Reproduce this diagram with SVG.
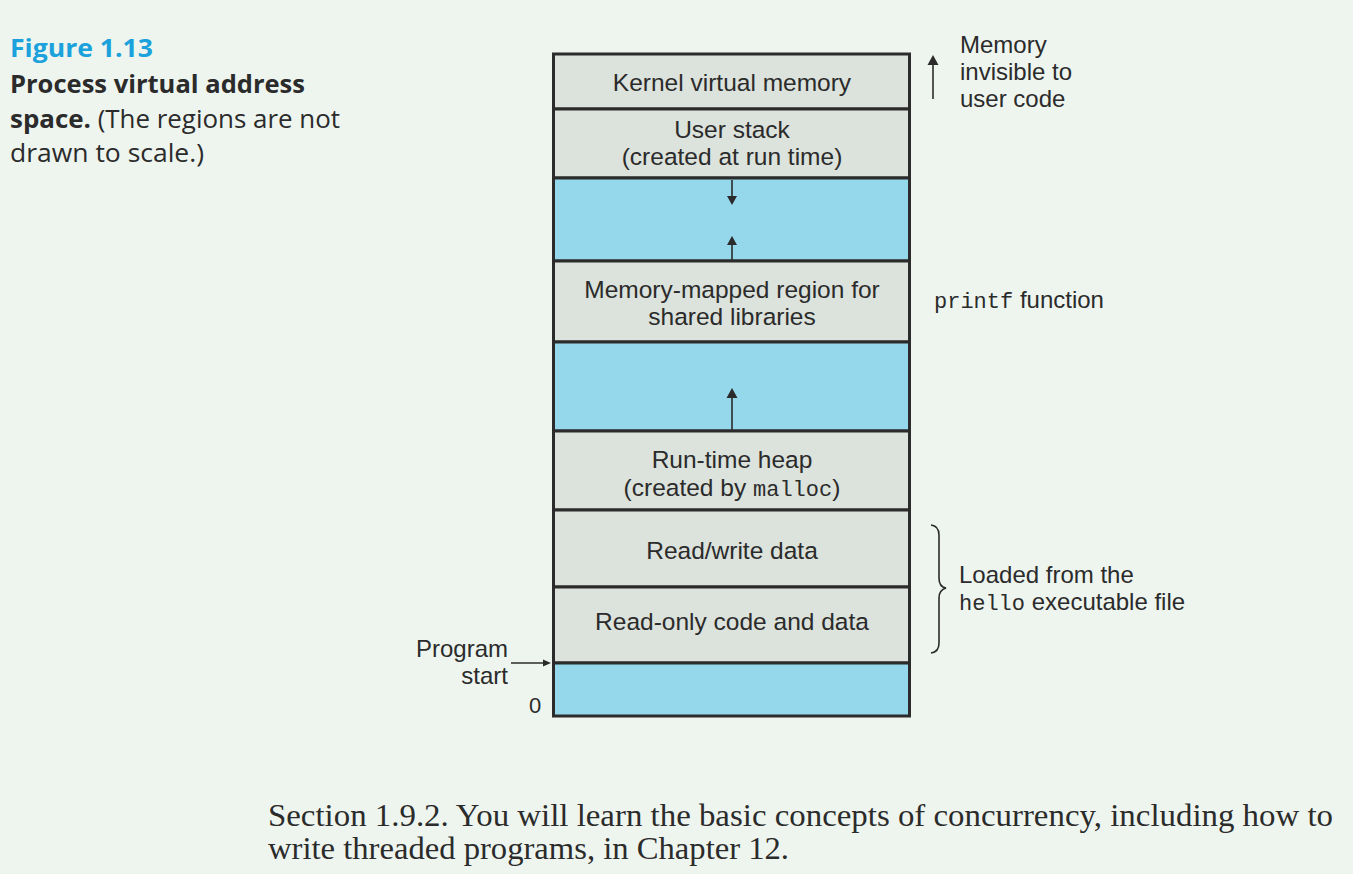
<svg xmlns="http://www.w3.org/2000/svg" width="1353" height="874" viewBox="0 0 1353 874">
<defs>
<style>
.bg{fill:#eef5ef}
.g{fill:#dce2dc;stroke:#2b2b2b;stroke-width:3}
.b{fill:#95d8eb;stroke:#2b2b2b;stroke-width:3}
.lbl{font-family:"Liberation Sans",Arial,sans-serif;font-size:24.5px;fill:#2b2b2b}
.side{font-size:24px}
.mid{text-anchor:middle}
.mono{font-family:"Liberation Mono","Courier New",monospace;font-size:22px}
.cap{font-family:"Open Sans","Noto Sans",sans-serif;font-size:25px;fill:#2b2b2b}
.ser{font-family:"Liberation Serif","Times New Roman",serif;font-size:31px;fill:#2b2b2b}
.ln{stroke:#2b2b2b;stroke-width:1.6;fill:none}
.hd{fill:#2b2b2b}
</style>
</defs>
<rect class="bg" x="0" y="0" width="1353" height="874"/>

<g id="caption">
<text class="cap" x="10" y="57" font-weight="bold" style="fill:#1ba1db" textLength="143" lengthAdjust="spacingAndGlyphs">Figure 1.13</text>
<text class="cap" x="10" y="93" font-weight="bold" textLength="295" lengthAdjust="spacingAndGlyphs">Process virtual address</text>
<text class="cap" x="10" y="128" textLength="330" lengthAdjust="spacingAndGlyphs"><tspan font-weight="bold">space.</tspan> (The regions are not</text>
<text class="cap" x="10" y="162" textLength="194" lengthAdjust="spacingAndGlyphs">drawn to scale.)</text>
</g>

<g id="kernel">
<rect class="g" x="553.5" y="54" width="356" height="55"/>
<text class="lbl mid" x="732" y="90.5">Kernel virtual memory</text>
</g>
<g id="user-stack">
<rect class="g" x="553.5" y="109" width="356" height="69"/>
<text class="lbl mid" x="732" y="138">User stack</text>
<text class="lbl mid" x="732" y="165">(created at run time)</text>
</g>
<g id="gap-stack">
<rect class="b" x="553.5" y="178" width="356" height="83"/>
</g>
<g id="mmap">
<rect class="g" x="553.5" y="261" width="356" height="81"/>
<text class="lbl mid" x="732" y="298">Memory-mapped region for</text>
<text class="lbl mid" x="732" y="325">shared libraries</text>
</g>
<g id="gap-heap">
<rect class="b" x="553.5" y="342" width="356" height="89"/>
</g>
<g id="heap">
<rect class="g" x="553.5" y="431" width="356" height="79"/>
<text class="lbl mid" x="732" y="468">Run-time heap</text>
<text class="lbl mid" x="732" y="495.5">(created by <tspan class="mono">malloc</tspan>)</text>
</g>
<g id="rw-data">
<rect class="g" x="553.5" y="510" width="356" height="77"/>
<text class="lbl mid" x="732" y="559">Read/write data</text>
</g>
<g id="ro-code">
<rect class="g" x="553.5" y="587" width="356" height="76"/>
<text class="lbl mid" x="732" y="630">Read-only code and data</text>
</g>
<g id="bottom-gap">
<rect class="b" x="553.5" y="663" width="356" height="53"/>
</g>

<g id="connectors">
<line class="ln" x1="732" y1="180" x2="732" y2="197"/>
<polygon class="hd" points="727,196 737,196 732,205"/>
<line class="ln" x1="732" y1="244" x2="732" y2="260"/>
<polygon class="hd" points="727,245 737,245 732,236"/>
<line class="ln" x1="732" y1="397" x2="732" y2="430"/>
<polygon class="hd" points="726.5,398 737.5,398 732,388"/>
<line class="ln" x1="933" y1="64" x2="933" y2="99"/>
<polygon class="hd" points="927.5,65 938.5,65 933,55"/>
<line class="ln" x1="511" y1="663" x2="544" y2="663"/>
<polygon class="hd" points="543,659.5 543,666.5 551,663"/>
<path class="ln" d="M931,525 Q939,526 939,535 L939,578 Q939,587 946,588 Q939,590 939,598 L939,643 Q939,652 931,653"/>
</g>

<g id="labels">
<text class="lbl side" x="960" y="53">Memory</text>
<text class="lbl side" x="960" y="80">invisible to</text>
<text class="lbl side" x="960" y="107">user code</text>
<text class="lbl side" x="934" y="308"><tspan class="mono">printf</tspan> function</text>
<text class="lbl side" x="959" y="583">Loaded from the</text>
<text class="lbl side" x="959" y="610"><tspan class="mono">hello</tspan> executable file</text>
<text class="lbl side" x="508" y="657" text-anchor="end">Program</text>
<text class="lbl side" x="508" y="684" text-anchor="end">start</text>
<text class="lbl" x="535" y="713" text-anchor="middle" style="font-size:22px">0</text>
</g>

<g id="body-text">
<text class="ser" x="268" y="826" textLength="1065" lengthAdjust="spacingAndGlyphs">Section 1.9.2. You will learn the basic concepts of concurrency, including how to</text>
<text class="ser" x="268" y="859" textLength="521" lengthAdjust="spacingAndGlyphs">write threaded programs, in Chapter 12.</text>
</g>
</svg>
